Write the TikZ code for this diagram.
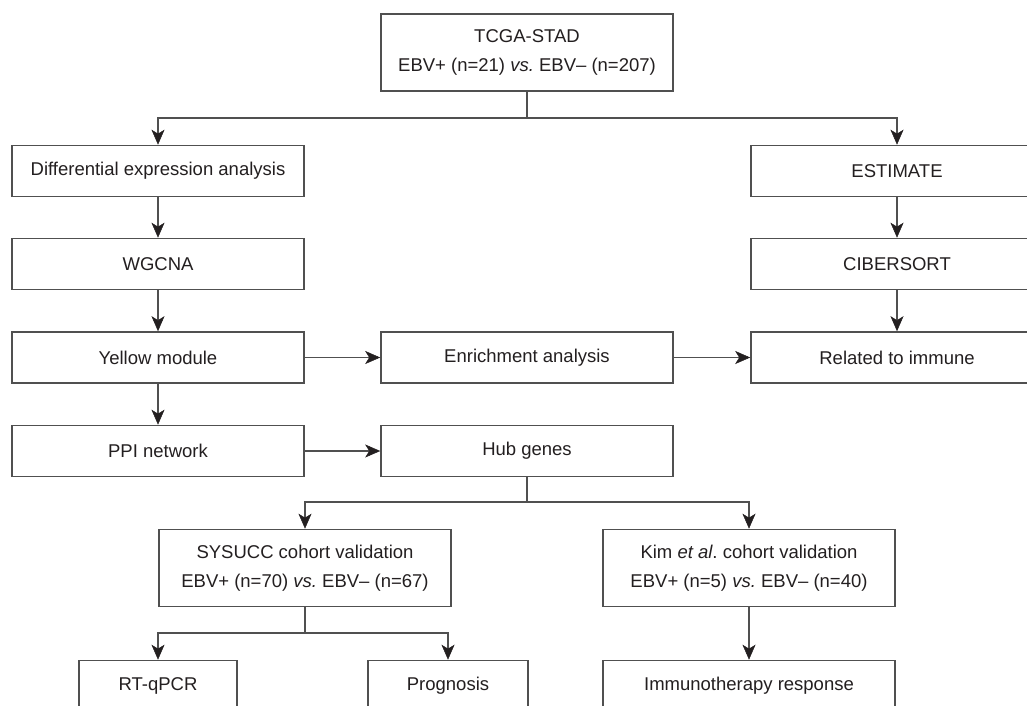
\documentclass[tikz,border=0pt]{standalone}
\usepackage{fontspec}
\setmainfont{Liberation Sans}
\usetikzlibrary{arrows.meta}
\frenchspacing
\definecolor{linegray}{HTML}{505050}
\definecolor{textgray}{HTML}{231F20}
\tikzset{
  box/.style={draw=linegray, line width=1.6pt, fill=white, minimum width=292pt, minimum height=51pt,
    inner sep=0pt, align=center, text=textgray, font=\fontsize{18.5}{28.5}\selectfont},
  tallbox/.style={box, minimum height=77pt},
  conn/.style={draw=linegray, line width=1.6pt},
  arr/.style={conn, -{Stealth[length=15pt,width=13pt,inset=4pt,color=textgray,fill=textgray,line width=0.5pt]}}
}
\begin{document}
\begin{tikzpicture}[x=1pt,y=-1pt]
\useasboundingbox (0,0) rectangle (1027,706);
\clip (0,0) rectangle (1027,706);
\node[tallbox] (top) at (527,52.5) {TCGA-STAD\\EBV+ (n=21) \textit{vs.} EBV– (n=207)};
\node[box] (dea) at (158,171) {Differential expression analysis};
\node[box] (est) at (897,171) {ESTIMATE};
\node[box] (wgcna) at (158,264) {WGCNA};
\node[box] (cib) at (897,264) {CIBERSORT};
\node[box] (yel) at (158,357.5) {Yellow module};
\node[box] (enr) at (527,357.5) {Enrichment analysis};
\node[box] (rel) at (897,357.5) {Related to immune};
\node[box] (ppi) at (158,451) {PPI network};
\node[box] (hub) at (527,451) {Hub genes};
\node[tallbox] (sys) at (305,568) {SYSUCC cohort validation\\EBV+ (n=70) \textit{vs.} EBV– (n=67)};
\node[tallbox] (kim) at (749,568) {Kim \textit{et al}. cohort validation\\EBV+ (n=5) \textit{vs.} EBV– (n=40)};
\node[box, minimum width=158pt] (rt) at (158,686) {RT-qPCR};
\node[box, minimum width=160pt] (prog) at (448,686) {Prognosis};
\node[box] (imm) at (749,686) {Immunotherapy response};

\coordinate (s1) at (527,118);
\draw[conn] (top.south) -- (s1);
\draw[arr] (s1) -| (dea.north);
\draw[arr] (s1) -| (est.north);
\draw[arr] (dea) -- (wgcna);
\draw[arr] (wgcna) -- (yel);
\draw[arr] (yel) -- (ppi);
\draw[arr] (est) -- (cib);
\draw[arr] (cib) -- (rel);
\draw[arr] (yel) -- (enr);
\draw[arr] (enr) -- (rel);
\draw[arr] (ppi) -- (hub);
\coordinate (s2) at (527,502);
\draw[conn] (hub.south) -- (s2);
\draw[arr] (s2) -| (sys.north);
\draw[arr] (s2) -| (kim.north);
\coordinate (s3) at (305,633);
\draw[conn] (sys.south) -- (s3);
\draw[arr] (s3) -| (rt.north);
\draw[arr] (s3) -| (prog.north);
\draw[arr] (kim) -- (imm);
\end{tikzpicture}
\end{document}
